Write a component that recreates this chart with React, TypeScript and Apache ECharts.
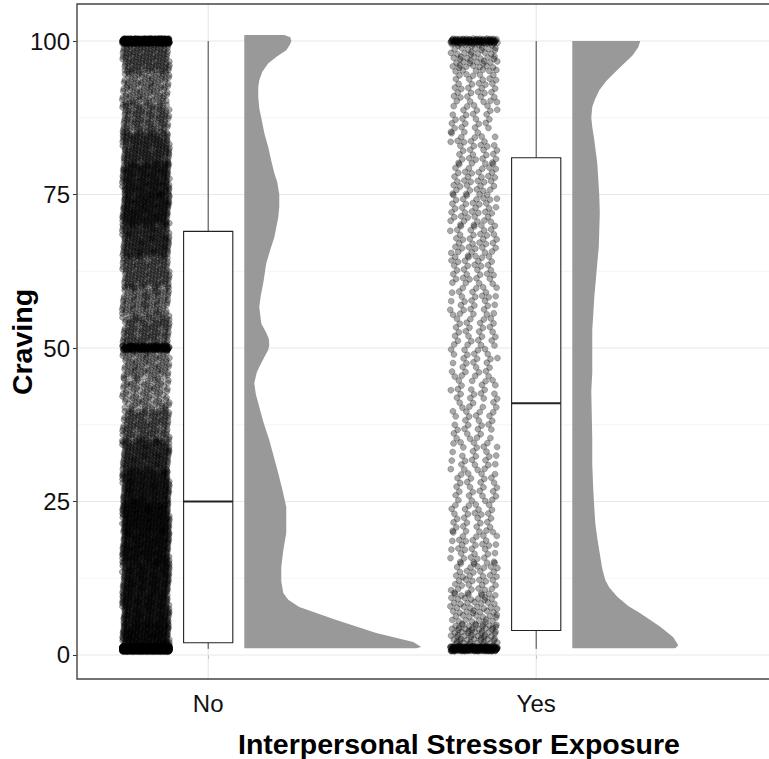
import React, { useEffect, useRef } from "react";
import * as echarts from "echarts";

// ---- data ----
const categories = ["No", "Yes"];
const yTickValues = [0, 25, 50, 75, 100];
const yGridValues = [0, 12.5, 25, 37.5, 50, 62.5, 75, 87.5, 100];

// Craving values: counts per bin [edge_i, edge_i+1) plus heaped values
const binEdges = [1, 5, 10, 15, 20, 25, 30, 35, 40, 45, 50, 55, 60, 65, 70, 75, 80, 85, 90, 95, 100];
const binCountsNo = [255, 285, 285, 300, 315, 270, 210, 143, 90, 105, 143, 120, 150, 210, 255, 248, 195, 135, 105, 150];
const binCountsYes = [70, 55, 40, 33, 30, 28, 27, 26, 26, 27, 28, 30, 33, 36, 37, 36, 32, 27, 35, 60];
const spikeValues = [1, 50, 100];
const spikeCountsNo = [1500, 120, 420];
const spikeCountsYes = [190, 0, 95];

// box stats: [lower whisker, Q1, median, Q3, upper whisker]
const boxNo = [1, 2, 25, 69, 100];
const boxYes = [1, 4, 41, 81, 100];

// half-violin (density) outlines: craving level -> relative density
const densityLevelsNo = [1.1, 1.3, 2.1, 3.6, 5.7, 7.8, 9, 10.1, 12, 14.3, 17, 19.9, 24.1, 27, 29.6, 32, 35, 38, 40.4, 42.5, 44.3, 46, 46.9, 48.5, 49.7, 50.5, 51.5, 52.5, 54, 56.7, 58.5, 60.6, 63.8, 66, 68, 71.3, 73, 75, 77, 78.5, 80.5, 82.7, 85, 87.5, 89, 90.9, 92.5, 93.6, 95, 96.4, 97.5, 98.5, 99.5, 100, 100.6, 101];
const densityNo = [172, 177, 169, 132, 92, 55, 44, 39, 37, 37, 39, 42, 42, 38, 34, 30, 25, 19, 15, 11.5, 10, 12.5, 15, 20, 24, 25, 24.5, 22, 17, 15, 16.5, 19, 22, 26, 30, 34, 35, 35, 33, 30, 27, 24, 20, 17, 15, 14, 14, 15, 18, 24, 33, 42, 46, 47, 46, 40];
const densityLevelsYes = [1.1, 1.6, 2.9, 4.6, 6.8, 8, 9.5, 11, 12.2, 14, 16, 19, 21.5, 24, 26.9, 31, 35, 39, 43, 46, 50, 53, 55.5, 58.3, 61, 63.8, 66.5, 69.2, 72, 74.9, 77.5, 80.1, 82, 83.9, 86, 87.5, 89.3, 90.6, 92, 93.5, 94.8, 96.2, 97.6, 99, 100];
const densityYes = [103, 106, 101, 88, 68, 56, 45, 37, 33, 30, 28, 25, 23, 22, 21, 20, 20, 19.5, 19, 20, 20, 20, 21, 22, 23.5, 25, 26.5, 27, 27.5, 27, 26, 25, 23.5, 22, 20, 19, 20, 23, 27, 34, 42, 51, 60, 66, 68];

// ---- layout constants ----
const GRID_LEFT = 77;
const GRID_WIDTH = 732; // panel continues past the right edge of the picture
const PX_PER_UNIT = 328;
const X_MIN = 0.6;
const X_MAX = X_MIN + GRID_WIDTH / PX_PER_UNIT;
const Y_MIN = -3.91;
const Y_MAX = 106.03;
const JITTER_CENTER = -0.19;
const JITTER_HALF = 0.072;
const JITTER_HEIGHT = 0.4;
const BOX_HALF = 0.075;
const VIOLIN_OFFSET = 0.11;
const VIOLIN_PEAK = [177 / PX_PER_UNIT, 106 / PX_PER_UNIT];
const FONT = "'Liberation Sans', Arial, Helvetica, sans-serif";

const frac = (v: number) => v - Math.floor(v);

// jittered positions (low-discrepancy spread inside each value bin)
function buildPoints(g: number, bins: number[], spikes: number[]) {
  const out: number[][] = [];
  const cx = g + 1 + JITTER_CENTER;
  let seed = g * 97;
  spikeValues.forEach((v, i) => {
    for (let k = 0; k < spikes[i]; k++) {
      const s = k + seed;
      const u = frac(0.5 + s * 0.7548776662);
      const w = frac(0.5 + s * 0.569840291);
      out.push([cx + (u - 0.5) * 2 * JITTER_HALF, v + (w - 0.5) * 2 * JITTER_HEIGHT]);
    }
    seed += 131;
  });
  bins.forEach((n, i) => {
    const lo = binEdges[i];
    const hi = binEdges[i + 1];
    for (let k = 0; k < n; k++) {
      const s = k + seed;
      const u = frac(0.5 + s * 0.7548776662);
      const w = frac(0.5 + s * 0.569840291);
      out.push([cx + (u - 0.5) * 2 * JITTER_HALF, lo + w * (hi - lo)]);
    }
    seed += 173;
  });
  return out;
}

export default function App() {
  const ref = useRef<HTMLDivElement>(null);
  useEffect(() => {
    if (!ref.current) return;
    const chart = echarts.init(ref.current, null, { renderer: "svg" });
    const pointsNo = buildPoints(0, binCountsNo, spikeCountsNo);
    const pointsYes = buildPoints(1, binCountsYes, spikeCountsYes);
    const boxes = [boxNo, boxYes];
    const dLevels = [densityLevelsNo, densityLevelsYes];
    const dVals = [densityNo, densityYes];
    const pointStyle = {
      color: "rgba(0,0,0,0.42)",
      borderColor: "rgba(0,0,0,0.45)",
      borderWidth: 0.6,
    };

    const option: any = {
      animation: false,
      backgroundColor: "#ffffff",
      grid: {
        left: GRID_LEFT,
        top: 4,
        width: GRID_WIDTH,
        height: 675,
        show: false,
        outerBoundsMode: "none",
        containLabel: false,
      },
      xAxis: {
        type: "value",
        min: X_MIN,
        max: X_MAX,
        axisLine: { show: false },
        splitLine: { show: false },
        axisTick: {
          show: true,
          customValues: [1, 2],
          length: 4,
          lineStyle: { color: "#333333", width: 1 },
        },
        axisLabel: {
          customValues: [1, 2],
          formatter: (v: number) => categories[Math.round(v) - 1] || "",
          fontSize: 24,
          color: "#111111",
          fontFamily: FONT,
          margin: 12,
        },
      },
      yAxis: {
        type: "value",
        min: Y_MIN,
        max: Y_MAX,
        axisLine: { show: false },
        splitLine: { show: false },
        axisTick: {
          show: true,
          customValues: yTickValues,
          length: 4,
          lineStyle: { color: "#333333", width: 1 },
        },
        axisLabel: {
          customValues: yTickValues,
          fontSize: 24,
          color: "#111111",
          fontFamily: FONT,
          margin: 7,
        },
      },
      graphic: [
        {
          type: "text",
          x: 22,
          y: 342,
          rotation: Math.PI / 2,
          style: {
            text: "Craving",
            fontSize: 28.5,
            fontWeight: "bold",
            fontFamily: FONT,
            fill: "#000000",
            textAlign: "center",
            textVerticalAlign: "middle",
          },
        },
        {
          type: "text",
          x: 459,
          y: 744,
          style: {
            text: "Interpersonal Stressor Exposure",
            fontSize: 28.5,
            fontWeight: "bold",
            fontFamily: FONT,
            fill: "#000000",
            textAlign: "center",
            textVerticalAlign: "middle",
          },
        },
      ],
      series: [
        {
          type: "custom",
          name: "ygrid",
          silent: true,
          z: 1,
          data: yGridValues.map((v) => [1, v]),
          encode: { x: 0, y: 1 },
          renderItem: (params: any, api: any) => {
            const cs = params.coordSys;
            const v = api.value(1);
            const y = api.coord([1, v])[1];
            const major = v % 25 === 0;
            return {
              type: "line",
              shape: { x1: cs.x, y1: y, x2: cs.x + cs.width, y2: y },
              style: { stroke: major ? "#e8e8e8" : "#f1f1f1", lineWidth: major ? 1.2 : 0.8 },
            };
          },
        },
        {
          type: "custom",
          name: "xgrid",
          silent: true,
          z: 1,
          data: [
            [1, 50],
            [2, 50],
          ],
          encode: { x: 0, y: 1 },
          renderItem: (params: any, api: any) => {
            const cs = params.coordSys;
            const x = api.coord([api.value(0), 50])[0];
            return {
              type: "line",
              shape: { x1: x, y1: cs.y, x2: x, y2: cs.y + cs.height },
              style: { stroke: "#e8e8e8", lineWidth: 1.2 },
            };
          },
        },
        {
          type: "custom",
          name: "border",
          silent: true,
          z: 5,
          data: [[1, 50]],
          encode: { x: 0, y: 1 },
          renderItem: (params: any) => {
            const cs = params.coordSys;
            return {
              type: "rect",
              shape: { x: cs.x, y: cs.y, width: cs.width, height: cs.height },
              style: { fill: "none", stroke: "#444444", lineWidth: 1.4 },
            };
          },
        },
        {
          type: "scatter",
          name: "No points",
          silent: true,
          z: 2,
          symbolSize: 6,
          data: pointsNo,
          itemStyle: pointStyle,
        },
        {
          type: "scatter",
          name: "Yes points",
          silent: true,
          z: 2,
          symbolSize: 6,
          data: pointsYes,
          itemStyle: pointStyle,
        },
        {
          type: "custom",
          name: "box",
          silent: true,
          z: 3,
          data: [
            [1, 50],
            [2, 50],
          ],
          encode: { x: 0, y: 1 },
          renderItem: (params: any, api: any) => {
            const g = params.dataIndex;
            const b = boxes[g];
            const c = g + 1;
            const pLo = api.coord([c, b[0]]);
            const pQ1 = api.coord([c, b[1]]);
            const pMed = api.coord([c, b[2]]);
            const pQ3 = api.coord([c, b[3]]);
            const pHi = api.coord([c, b[4]]);
            const xl = api.coord([c - BOX_HALF, 0])[0];
            const xr = api.coord([c + BOX_HALF, 0])[0];
            return {
              type: "group",
              children: [
                {
                  type: "line",
                  shape: { x1: pLo[0], y1: pLo[1], x2: pQ1[0], y2: pQ1[1] },
                  style: { stroke: "#444444", lineWidth: 1 },
                },
                {
                  type: "line",
                  shape: { x1: pQ3[0], y1: pQ3[1], x2: pHi[0], y2: pHi[1] },
                  style: { stroke: "#444444", lineWidth: 1 },
                },
                {
                  type: "rect",
                  shape: { x: xl, y: pQ3[1], width: xr - xl, height: pQ1[1] - pQ3[1] },
                  style: { fill: "#ffffff", stroke: "#222222", lineWidth: 1.1 },
                },
                {
                  type: "line",
                  shape: { x1: xl, y1: pMed[1], x2: xr, y2: pMed[1] },
                  style: { stroke: "#222222", lineWidth: 2.2 },
                },
              ],
            };
          },
        },
        {
          type: "custom",
          name: "density",
          silent: true,
          z: 3,
          data: [
            [1, 50],
            [2, 50],
          ],
          encode: { x: 0, y: 1 },
          renderItem: (params: any, api: any) => {
            const g = params.dataIndex;
            const levels = dLevels[g];
            const vals = dVals[g];
            const peak = Math.max(...vals);
            const xb = g + 1 + VIOLIN_OFFSET;
            const pts = levels.map((y, i) => api.coord([xb + (vals[i] / peak) * VIOLIN_PEAK[g], y]));
            pts.push(api.coord([xb, levels[levels.length - 1]]));
            pts.push(api.coord([xb, levels[0]]));
            return {
              type: "polygon",
              shape: { points: pts },
              style: { fill: "#999999" },
            };
          },
        },
      ],
    };
    chart.setOption(option);
    return () => chart.dispose();
  }, []);
  return (
    <div
      ref={ref}
      style={{ position: "absolute", left: 0, top: 0, width: 769, height: 759, background: "#fff" }}
    />
  );
}
